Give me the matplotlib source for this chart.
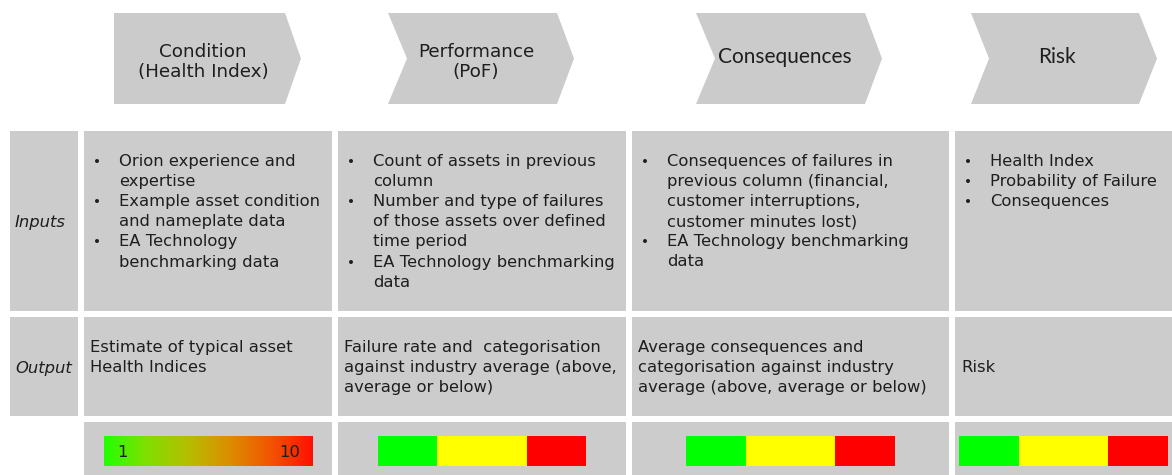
import matplotlib.pyplot as plt
from matplotlib.patches import Polygon, Rectangle
from matplotlib.colors import LinearSegmentedColormap
import numpy as np

# stages across the top
stages = ["Condition\n(Health Index)", "Performance\n(PoF)", "Consequences", "Risk"]
stage_fonts = ["DejaVu Sans", "DejaVu Sans", "Lato", "Lato"]

row_labels = ["Inputs", "Output"]

# inputs, one list of wrapped lines per bullet
inputs = [
    [["Orion experience and", "expertise"],
     ["Example asset condition", "and nameplate data"],
     ["EA Technology", "benchmarking data"]],
    [["Count of assets in previous", "column"],
     ["Number and type of failures", "of those assets over defined", "time period"],
     ["EA Technology benchmarking", "data"]],
    [["Consequences of failures in", "previous column (financial,", "customer interruptions,",
      "customer minutes lost)"],
     ["EA Technology benchmarking", "data"]],
    [["Health Index"], ["Probability of Failure"], ["Consequences"]],
]

outputs = [
    ["Estimate of typical asset", "Health Indices"],
    ["Failure rate and  categorisation", "against industry average (above,", "average or below)"],
    ["Average consequences and", "categorisation against industry", "average (above, average or below)"],
    ["Risk"],
]

# health index scale ends, and the three-band scale (below / average / above)
hi_range = ["1", "10"]
band_colors = ["#00ff00", "#ffff00", "#ff0000"]
band_weights = [2, 3, 2]
grad_colors = ["#22ff00", "#80df00", "#b5be00", "#dc8e00", "#f25400", "#ff1000"]

gray = "#cccccc"
txt = "#1e1e1e"

fig = plt.figure(figsize=(11.72, 4.75), dpi=100)
ax = fig.add_axes([0, 0, 1, 1])
ax.set_xlim(0, 1172)
ax.set_ylim(475, 0)
ax.axis("off")

# chevrons: left, notch depth, right, tip, text centre
chev = [(114, 0, 285, 301, 203), (388, 19, 557, 574, 476), (696, 19, 865, 882, 785), (971, 18, 1139, 1157, 1057)]
top, bot = 13, 104
mid = (top + bot) / 2
for (l, n, r, t, cx), name, fam in zip(chev, stages, stage_fonts):
    pts = [(l, top), (r, top), (t, mid), (r, bot), (l, bot), (l + n, mid)]
    ax.add_patch(Polygon(pts, closed=True, fc="#cbcbcb", ec="none"))
    if fam == "DejaVu Sans":
        ax.text(cx, 62, name, ha="center", va="center", fontsize=13.2,
                family=fam, color=txt, linespacing=1.2)
    else:
        ax.text(cx, 57, name, ha="center", va="center", fontsize=15, family=fam, color=txt)

# table layout
cols = [(84, 332), (338, 626), (632, 949), (955, 1172)]
rows = [(131, 311), (317, 416)]
bar_row = (422, 476)

fs = 11.8
lh = 20.1

for (y0, y1), lab in zip(rows, row_labels):
    ax.add_patch(Rectangle((10, y0), 68, y1 - y0, fc=gray, ec="none"))
    ax.text(15, (y0 + y1) / 2 + 6, lab, style="italic", fontsize=fs, color=txt, va="baseline")
    for x0, x1 in cols:
        ax.add_patch(Rectangle((x0, y0), x1 - x0, y1 - y0, fc=gray, ec="none"))
for x0, x1 in cols:
    ax.add_patch(Rectangle((x0, bar_row[0]), x1 - x0, bar_row[1] - bar_row[0], fc=gray, ec="none"))

# inputs text
for (x0, x1), bullets in zip(cols, inputs):
    y = 166
    for lines in bullets:
        ax.text(x0 + 9, y, "\u2022", fontsize=fs - 2, color=txt, va="baseline")
        for line in lines:
            ax.text(x0 + 35, y, line, fontsize=fs, color=txt, va="baseline")
            y += lh

# outputs text, top aligned; single line sits in the middle of the row
for (x0, x1), lines in zip(cols, outputs):
    y = 352 if len(lines) > 1 else 372
    for line in lines:
        ax.text(x0 + 6, y, line, fontsize=fs, color=txt, va="baseline")
        y += lh

# colour scales
by0, by1 = 436, 466
g = np.linspace(0, 1, 256).reshape(1, -1)
cmap = LinearSegmentedColormap.from_list("hi", grad_colors)
ax.imshow(g, cmap=cmap, aspect="auto", extent=(104, 313, by1, by0), zorder=2)
ax.text(117, 457, hi_range[0], fontsize=fs, color=txt, va="baseline", zorder=3)
ax.text(300, 457, hi_range[1], fontsize=fs, color=txt, va="baseline", ha="right", zorder=3)

band_spans = [(378, 586), (686, 895), (959, 1168)]
for s0, s1 in band_spans:
    w = np.array(band_weights) / sum(band_weights) * (s1 - s0)
    left = s0 + np.concatenate([[0], np.cumsum(w)[:-1]])
    ax.barh((by0 + by1) / 2, w, left=left, height=by1 - by0, color=band_colors, zorder=2)

fig.savefig("out.png", dpi=100)
